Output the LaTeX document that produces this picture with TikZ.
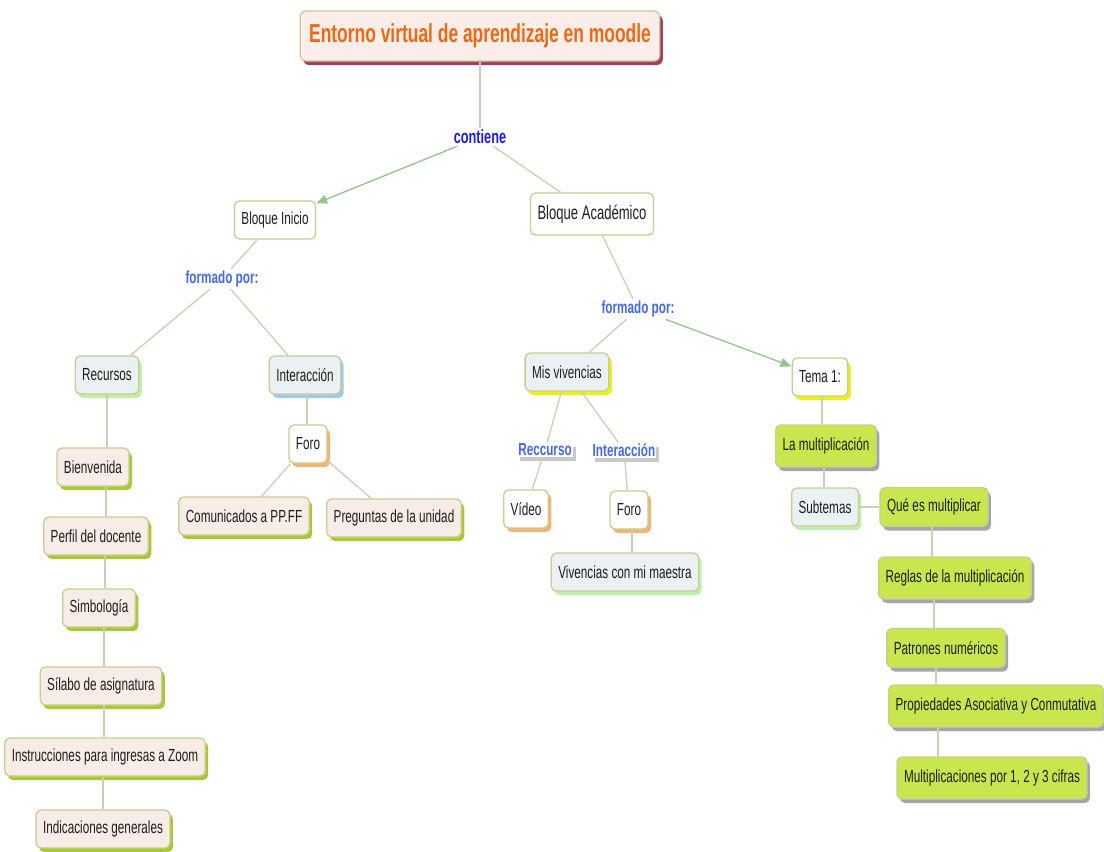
\documentclass[tikz,border=0pt]{standalone}
\usepackage{fontspec}
\setmainfont[FakeStretch=0.67]{Liberation Sans}
\usetikzlibrary{shadows,arrows.meta}
\definecolor{bordc}{RGB}{200,204,146}
\definecolor{pinkf}{RGB}{247,236,230}
\definecolor{bluef}{RGB}{235,241,242}
\definecolor{greenf}{RGB}{200,230,78}
\definecolor{shyg}{RGB}{168,200,52}
\definecolor{shgray}{RGB}{165,165,165}
\definecolor{shlg}{RGB}{190,240,170}
\definecolor{shlb}{RGB}{160,200,240}
\definecolor{shor}{RGB}{242,180,112}
\definecolor{shyel}{RGB}{240,238,20}
\definecolor{shpur}{RGB}{160,64,104}
\definecolor{titlef}{RGB}{251,238,232}
\definecolor{titleo}{RGB}{240,104,20}
\definecolor{conn}{RGB}{200,208,184}
\definecolor{arrc}{RGB}{150,196,140}
\definecolor{cblue}{RGB}{28,28,230}
\definecolor{fblue}{RGB}{70,104,230}
\definecolor{txt}{RGB}{30,30,30}
\newcommand{\basefs}{\fontsize{17.5}{20}\selectfont}
\begin{document}
\begin{tikzpicture}[x=1pt,y=-1pt,
  box/.style={draw=bordc, line width=1.3pt, rounded corners=5pt, inner xsep=7pt,
    minimum height=38pt, text=txt, font=\basefs},
  shad/.style={drop shadow={shadow xshift=3pt, shadow yshift=-4pt, fill=#1, opacity=1}},
  whitebox/.style={box, fill=white},
  pinkbox/.style={box, fill=pinkf, shad=shyg},
  bluebox/.style={box, fill=bluef, shad=#1},
  greenbox/.style={box, fill=greenf, shad=shgray, minimum height=42pt},
  lbl/.style={font=\basefs\bfseries, text=fblue, inner sep=2pt},
  sublbl/.style={font=\basefs\bfseries, text=fblue, fill=white, inner sep=1pt, shad=shgray!60},
  cn/.style={draw=conn, line width=1.3pt},
  ca/.style={draw=arrc, line width=1.3pt, -{Triangle[length=11pt,width=9pt]}}
]
\useasboundingbox (0,0) rectangle (1104,852);
\fill[white] (0,0) rectangle (1104,852);

% title
\node[draw=bordc, line width=1.3pt, rounded corners=6pt, fill=titlef, inner xsep=9pt,
  minimum height=50pt, text=titleo, font=\fontsize{26}{28}\selectfont\bfseries,
  drop shadow={shadow xshift=3pt, shadow yshift=-4pt, fill=shpur, opacity=1}]
  (title) at (480,36) {Entorno virtual de aprendizaje en moodle};
\node[font=\fontsize{19}{22}\selectfont\bfseries, text=cblue, inner sep=2pt] (contiene) at (480,137) {contiene};

\node[whitebox] (binicio) at (275,220) {Bloque Inicio};
\node[whitebox, font=\fontsize{19.5}{22}\selectfont, minimum height=42pt] (bacad) at (592,214) {Bloque Académico};

\node[lbl] (fpl) at (222,279) {formado por:};
\node[lbl] (fpr) at (638,309) {formado por:};

% left block
\node[bluebox=shlg] (rec) at (107,375) {Recursos};
\node[bluebox=shlb] (inter) at (305,375) {Interacción};
\node[whitebox, shad=shor] (foro1) at (308,444) {Foro};
\node[pinkbox] (comu) at (244,516) {Comunicados a PP.FF};
\node[pinkbox] (preg) at (394,518) {Preguntas de la unidad};

\node[pinkbox] (bien) at (93,467) {Bienvenida};
\node[pinkbox] (perf) at (96,536) {Perfil del docente};
\node[pinkbox] (simb) at (99,608) {Simbología};
\node[pinkbox] (sila) at (101,686) {Sílabo de asignatura};
\node[pinkbox] (inst) at (105,757) {Instrucciones para ingresas a Zoom};
\node[pinkbox] (indi) at (103,829) {Indicaciones generales};

% right block
\node[bluebox=shyel] (misv) at (567,372) {Mis vivencias};
\node[bluebox=shyel, fill=white] (tema) at (820,377) {Tema 1:};
\node[sublbl] (recc) at (545,450) {Reccurso};
\node[sublbl] (intl) at (624,450) {Interacción};
\node[whitebox, shad=shor] (video) at (526,509) {Vídeo};
\node[whitebox, shad=shor] (foro2) at (629,510) {Foro};
\node[bluebox=shlg] (vive) at (625,572) {Vivencias con mi maestra};

\node[greenbox] (lamu) at (826,446) {La multiplicación};
\node[bluebox=shlg] (subt) at (825,507) {Subtemas};
\node[greenbox, minimum height=39pt] (ques) at (934,507) {Qué es multiplicar};
\node[greenbox] (regl) at (955,578) {Reglas de la multiplicación};
\node[greenbox, minimum height=39pt] (patr) at (946,648) {Patrones numéricos};
\node[greenbox] (prop) at (996,706) {Propiedades Asociativa y Conmutativa};
\node[greenbox] (mult) at (992,778) {Multiplicaciones por 1, 2 y 3 cifras};

% connectors
\path[cn] (title) -- (contiene);
\path[ca] (contiene) -- (binicio);
\path[cn] (contiene) -- (bacad);
\path[cn] (binicio) -- (fpl);
\path[cn] (fpl) -- (rec);
\path[cn] (fpl) -- (inter);
\path[cn] (bacad) -- (fpr);
\path[cn] (fpr) -- (misv);
\path[ca] (fpr) -- (tema);

\path[cn] (inter.south -| 307,0) -- (foro1.north -| 307,0);
\path[cn] (foro1) -- (comu);
\path[cn] (foro1) -- (preg);

\path[cn] (rec.south) -- (bien.north -| rec.south);
\path[cn] (bien.south -| 106,0) -- (perf.north -| 106,0);
\path[cn] (perf.south -| 105,0) -- (simb.north -| 105,0);
\path[cn] (simb.south -| 104,0) -- (sila.north -| 104,0);
\path[cn] (sila.south -| 104,0) -- (inst.north -| 104,0);
\path[cn] (inst.south -| 103,0) -- (indi.north -| 103,0);

\path[cn] (misv) -- (recc);
\path[cn] (recc) -- (video);
\path[cn] (misv) -- (intl);
\path[cn] (intl) -- (foro2);
\path[cn] (foro2.south -| 632,0) -- (vive.north -| 632,0);

\path[cn] (tema.south -| 822,0) -- (lamu.north -| 822,0);
\path[cn] (lamu.south -| 824,0) -- (subt.north -| 824,0);
\path[cn] (subt) -- (ques);
\path[cn] (ques.south -| 932,0) -- (regl.north -| 932,0);
\path[cn] (regl.south -| 934,0) -- (patr.north -| 934,0);
\path[cn] (patr.south -| 936,0) -- (prop.north -| 936,0);
\path[cn] (prop.south -| 938,0) -- (mult.north -| 938,0);
\end{tikzpicture}
\end{document}
